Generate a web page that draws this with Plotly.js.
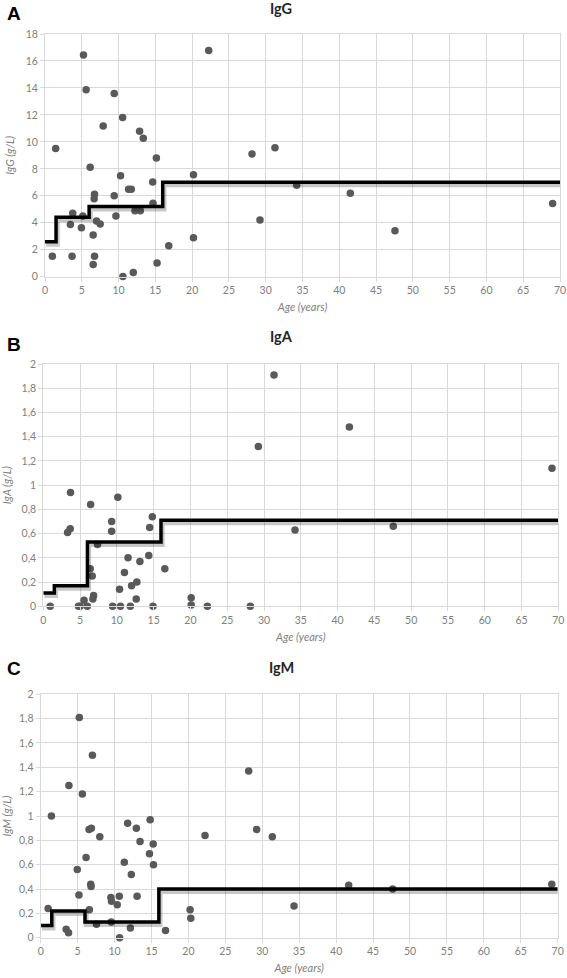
<!DOCTYPE html>
<html>
<head>
<meta charset="utf-8">
<script src="https://cdn.plot.ly/plotly-3.0.1.min.js"></script>
<style>html,body{margin:0;padding:0;background:#fff;}#chart{width:567px;height:978px;}</style>
</head>
<body>
<div id="chart"></div>
<script>
// ---- Data ----
const iggAge = [1.0,1.45,3.45,3.77,3.68,4.95,5.14,5.23,5.59,6.14,6.55,6.73,6.68,6.73,6.55,7.0,7.5,7.91,9.41,9.41,9.64,10.27,10.55,10.59,11.36,11.73,12.0,12.23,12.95,12.86,13.36,14.64,14.68,15.14,15.23,16.82,20.18,20.18,22.25,28.14,31.26,29.22,34.21,41.5,47.57,69.0];
const iggVal = [1.51,9.5,3.88,4.70,1.51,3.63,4.50,16.44,13.87,8.11,3.09,6.11,5.79,1.51,0.91,4.13,3.91,11.18,13.58,6.01,4.50,7.49,11.8,0.02,6.48,6.48,0.32,4.90,4.90,10.78,10.26,7.02,5.44,8.80,1.01,2.30,7.57,2.89,16.77,9.10,9.57,4.21,6.78,6.18,3.41,5.42];

const igaAge = [0.94,3.7,3.3,3.66,4.78,5.0,5.54,5.98,6.43,6.38,6.65,6.83,6.74,7.37,9.29,9.29,9.42,10.13,10.36,10.49,11.03,11.52,11.83,12.0,12.72,12.63,13.13,14.33,14.46,14.82,14.91,16.52,20.1,20.1,22.3,28.14,29.23,31.36,34.21,41.6,47.57,69.14];
const igaVal = [0,0.94,0.61,0.64,0,0,0.05,0,0.84,0.31,0.25,0.09,0.06,0.51,0.70,0.62,0,0.90,0.14,0,0.28,0.40,0,0.17,0.20,0.06,0.37,0.42,0.65,0.74,0,0.31,0.07,0.01,0,0,1.32,1.91,0.63,1.48,0.66,1.14];

const igmAge = [5.23,3.82,5.64,7.0,1.45,6.55,6.86,8.0,6.14,4.95,5.18,6.77,6.82,6.59,7.55,1.0,3.45,3.77,9.5,9.59,9.55,10.36,10.64,10.68,11.32,11.77,12.14,12.27,12.95,13.05,13.45,14.82,14.73,15.23,15.27,16.9,20.23,20.32,22.25,28.16,29.24,31.36,34.3,41.7,47.66,69.2];
const igmVal = [1.81,1.25,1.18,1.50,1.00,0.89,0.90,0.83,0.66,0.56,0.35,0.44,0.42,0.23,0.11,0.24,0.07,0.04,0.33,0.30,0.13,0.27,0.34,0,0.62,0.94,0.08,0.52,0.90,0.34,0.79,0.97,0.69,0.77,0.60,0.06,0.23,0.16,0.84,1.37,0.89,0.83,0.26,0.43,0.40,0.44];

// age-dependent reference limits (step function)
const refAge = [0,1.5,6,16,70];
const iggRef = [2.6,4.4,5.2,7.0,7.0];
const igaRef = [0.11,0.17,0.53,0.71,0.71];
const igmRef = [0.10,0.22,0.13,0.40,0.40];

const xTickVals = [0,5,10,15,20,25,30,35,40,45,50,55,60,65,70];
const iggTickVals = [0,2,4,6,8,10,12,14,16,18];
const igTickVals = [0,0.2,0.4,0.6,0.8,1,1.2,1.4,1.6,1.8,2];
const igTickText = ['0','0,2','0,4','0,6','0,8','1','1,2','1,4','1,6','1,8','2'];

const panelLetters = ['A','B','C'];
const panelTitles = ['IgG','IgA','IgM'];
const yTitles = ['IgG (g/L)','IgA (g/L)','IgM (g/L)'];
const xTitle = 'Age (years)';

// ---- Layout ----
const W = 567, H = 978;
const grey = '#808080', gridc = '#d9d9d9';
const fontFam = 'Lato, "Open Sans", sans-serif';
const areas = [
  {l:45, r:560, t:34, b:276.7},
  {l:43.3, r:558.3, t:364, b:606.3},
  {l:40.7, r:557.7, t:694.3, b:937.7}
];
const yRanges = [[0,18],[0,2],[0,2]];
const yTicks = [[iggTickVals, iggTickVals.map(String)],[igTickVals, igTickText],[igTickVals, igTickText]];
const ages = [iggAge, igaAge, igmAge];
const vals = [iggVal, igaVal, igmVal];
const refs = [iggRef, igaRef, igmRef];
const letterY = [14, 344, 668];
const titleY = [9, 337, 667];
const shadowDx = 1.2, shadowDy = 2.5; // shadow offset in pixels

const traces = [];
const layout = {
  width: W, height: H,
  margin: {l:0, r:0, t:0, b:0},
  paper_bgcolor: '#fff', plot_bgcolor: '#fff',
  showlegend: false,
  separators: ',.',
  font: {family: fontFam, color: grey, size: 10},
  annotations: []
};

for (let i = 0; i < 3; i++) {
  const a = areas[i];
  const sx = i === 0 ? '' : String(i + 1);
  const ss = String(i + 4);
  const xa = 'xaxis' + sx, ya = 'yaxis' + sx;
  const xd = [a.l / W, a.r / W], yd = [1 - a.b / H, 1 - a.t / H];
  layout[xa] = {
    domain: xd,
    range: [0, 70],
    tickvals: xTickVals,
    ticktext: xTickVals.map(String),
    showgrid: true, gridcolor: gridc, gridwidth: 1,
    zeroline: false,
    showline: true, linecolor: gridc, linewidth: 1, mirror: true,
    ticks: 'outside', ticklen: 4, tickcolor: gridc,
    tickfont: {family: fontFam, color: grey, size: 10.5},
    anchor: 'y' + sx,
    title: {text: '<i>' + xTitle + '</i>', font: {family: fontFam, color: grey, size: 11}, standoff: 8},
    fixedrange: true
  };
  layout[ya] = {
    domain: yd,
    range: yRanges[i],
    tickvals: yTicks[i][0],
    ticktext: yTicks[i][1],
    showgrid: true, gridcolor: gridc, gridwidth: 1,
    zeroline: false,
    showline: true, linecolor: gridc, linewidth: 1, mirror: true,
    ticks: 'outside', ticklen: 4, tickcolor: gridc,
    tickfont: {family: fontFam, color: grey, size: 10.5},
    anchor: 'x' + sx,
    title: {text: '<i>' + yTitles[i] + '</i>', font: {family: fontFam, color: grey, size: 11}, standoff: 8},
    fixedrange: true
  };
  // hidden overlay axes, shifted a few pixels, to draw the drop shadow of the step line
  const pxPerX = (a.r - a.l) / 70;
  const pxPerY = (a.b - a.t) / (yRanges[i][1] - yRanges[i][0]);
  const ddx = shadowDx / pxPerX, ddy = shadowDy / pxPerY;
  layout['xaxis' + ss] = {domain: xd, range: [-ddx, 70 - ddx], visible: false, overlaying: 'x' + sx, anchor: 'y' + ss, fixedrange: true};
  layout['yaxis' + ss] = {domain: yd, range: [yRanges[i][0] + ddy, yRanges[i][1] + ddy], visible: false, overlaying: 'y' + sx, anchor: 'x' + ss, fixedrange: true};

  const xr = 'x' + sx, yr = 'y' + sx;
  traces.push({
    x: refAge, y: refs[i], xaxis: 'x' + ss, yaxis: 'y' + ss,
    type: 'scatter', mode: 'lines',
    line: {shape: 'hv', color: 'rgba(0,0,0,0.22)', width: 5},
    hoverinfo: 'skip'
  });
  traces.push({
    x: ages[i], y: vals[i], xaxis: xr, yaxis: yr,
    type: 'scatter', mode: 'markers',
    marker: {color: '#595959', size: 7.5, line: {width: 0}},
    cliponaxis: false
  });
  traces.push({
    x: refAge, y: refs[i], xaxis: xr, yaxis: yr,
    type: 'scatter', mode: 'lines',
    line: {shape: 'hv', color: '#000', width: 3.5}
  });
  layout.annotations.push({
    text: '<b>' + panelLetters[i] + '</b>', xref: 'paper', yref: 'paper',
    x: 14 / W, y: 1 - letterY[i] / H, xanchor: 'center', yanchor: 'middle',
    showarrow: false, font: {family: 'Liberation Sans, Arial, sans-serif', size: 19, color: '#000'}
  });
  layout.annotations.push({
    text: '<b>' + panelTitles[i] + '</b>', xref: 'paper', yref: 'paper',
    x: 281 / W, y: 1 - titleY[i] / H, xanchor: 'center', yanchor: 'middle',
    showarrow: false, font: {family: fontFam, size: 14.5, color: '#262626'}
  });
}

Plotly.newPlot('chart', traces, layout, {staticPlot: true, displayModeBar: false});
</script>
</body>
</html>
